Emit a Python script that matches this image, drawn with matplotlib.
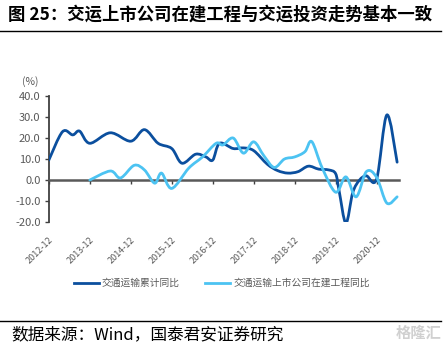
import matplotlib
matplotlib.use("Agg")
import matplotlib.pyplot as plt
from matplotlib.path import Path
from matplotlib.patches import PathPatch
from matplotlib.lines import Line2D

plt.rcParams['font.family'] = ['Noto Sans CJK SC', 'DejaVu Sans']

# 交通运输累计同比 (%)
invest_dates = ['2012-12', '2013-04', '2013-07', '2013-09', '2013-12', '2014-06', '2014-12',
                '2015-04', '2015-08', '2015-12', '2016-03', '2016-07', '2016-10', '2016-12',
                '2017-02', '2017-06', '2017-09', '2017-12', '2018-04', '2018-07', '2018-10',
                '2019-01', '2019-04', '2019-07', '2019-10', '2019-12', '2020-01', '2020-03',
                '2020-05', '2020-07', '2020-09', '2020-12', '2021-03', '2021-06']
invest_vals = [9.5, 23.0, 21.5, 23.3, 17.5, 22.5, 18.5,
               24.0, 17.5, 15.0, 8.0, 12.3, 11.0, 9.5,
               17.5, 15.0, 15.3, 14.0, 7.5, 4.5, 3.3,
               4.0, 6.6, 5.2, 4.8, 3.0, -5.0, -20.5,
               -6.0, 0.0, 2.0, 0.5, 31.0, 8.5]

# 交通运输上市公司在建工程同比 (%)
cip_dates = ['2013-12', '2014-06', '2014-09', '2015-01', '2015-04', '2015-07', '2015-09',
             '2015-12', '2016-05', '2016-09', '2017-01', '2017-03', '2017-06', '2017-09',
             '2017-12', '2018-03', '2018-06', '2018-09', '2018-12', '2019-03', '2019-05',
             '2019-08', '2019-12', '2020-03', '2020-06', '2020-09', '2020-12', '2021-03',
             '2021-06']
cip_vals = [0.0, 4.3, 1.0, 7.0, 4.8, -1.5, 3.3,
            -4.0, 5.7, 11.0, 17.5, 16.7, 20.0, 12.8,
            18.2, 11.5, 6.0, 10.0, 11.0, 13.5, 18.3,
            6.0, -5.8, 1.5, -8.0, 4.0, 1.3, -11.0,
            -8.0]

tick_labels = ['2012-12', '2013-12', '2014-12', '2015-12', '2016-12',
               '2017-12', '2018-12', '2019-12', '2020-12']


def month_index(d):
    y, m = d.split('-')
    return (int(y) - 2012) * 12 + int(m) - 12


def smooth_path(xs, ys):
    # Catmull-Rom style bezier through every point, like a smoothed office chart line
    pts = list(zip(xs, ys))
    verts = [pts[0]]
    codes = [Path.MOVETO]
    n = len(pts)
    for i in range(n - 1):
        p0 = pts[i - 1] if i > 0 else pts[i]
        p1 = pts[i]
        p2 = pts[i + 1]
        p3 = pts[i + 2] if i + 2 < n else pts[i + 1]
        c1 = (p1[0] + (p2[0] - p0[0]) / 6, p1[1] + (p2[1] - p0[1]) / 6)
        c2 = (p2[0] - (p3[0] - p1[0]) / 6, p2[1] - (p3[1] - p1[1]) / 6)
        verts += [c1, c2, p2]
        codes += [Path.CURVE4] * 3
    return Path(verts, codes)


dark = '#0B4F9E'
light = '#4CC3F2'
grey = '#595959'

fig = plt.figure(figsize=(4.48, 3.48), dpi=100)
ax = fig.add_axes([0.109, 0.362, 0.782, 0.362])

for dates, vals, col in [(invest_dates, invest_vals, dark), (cip_dates, cip_vals, light)]:
    xs = [month_index(d) for d in dates]
    ax.add_patch(PathPatch(smooth_path(xs, vals), fill=False, edgecolor=col,
                           lw=2.0, capstyle='round', joinstyle='round', zorder=3))

# spine position first: moving it resets the ticks
for s in ['top', 'right']:
    ax.spines[s].set_visible(False)
ax.spines['bottom'].set_position(('data', 0))
ax.spines['bottom'].set_color(grey)
ax.spines['bottom'].set_linewidth(1.8)
ax.spines['left'].set_color('#404040')
ax.spines['left'].set_linewidth(1.3)

ax.set_xlim(0, 102.6)
ax.set_ylim(-20, 40)
ax.set_yticks(range(-20, 41, 10))
ax.set_yticklabels(['%.1f' % v for v in range(-20, 41, 10)])

ax.set_xticks([month_index(t) for t in tick_labels])
ax.set_xticklabels(tick_labels, rotation=45, ha='right', rotation_mode='anchor')

ax.tick_params(axis='y', direction='out', length=3, width=1, color='#404040',
               labelsize=8, labelcolor=grey, pad=3)
ax.tick_params(axis='x', direction='out', length=3, width=1, color='#404040',
               labelsize=6.5, labelcolor=grey, pad=37)

ax.text(-0.054, 1.07, '(%)', transform=ax.transAxes, fontsize=7.5, color=grey,
        ha='center', va='bottom')

handles = [Line2D([], [], color=dark, lw=2), Line2D([], [], color=light, lw=2)]
fig.legend(handles, ['交通运输累计同比', '交通运输上市公司在建工程同比'],
           loc='center', bbox_to_anchor=(0.495, 1 - 283 / 348), ncol=2, frameon=False,
           fontsize=7, labelcolor=grey, handlelength=2.6, handletextpad=0.3,
           columnspacing=2.6)

fig.text(0.018, 1 - 15 / 348, '图 25：交运上市公司在建工程与交运投资走势基本一致',
         fontsize=12.5, fontweight='bold', ha='left', va='center')
fig.add_artist(Line2D([0, 0.985], [1 - 31 / 348, 1 - 31 / 348], color='black', lw=1))
fig.add_artist(Line2D([0, 0.985], [1 - 321 / 348, 1 - 321 / 348], color='black', lw=1))
fig.text(0.025, 1 - 335 / 348, '数据来源：Wind，国泰君安证券研究',
         fontsize=12, ha='left', va='center')
fig.text(0.985, 1 - 333 / 348, '格隆汇', fontsize=11, color='#d0d0d0',
         ha='right', va='center', fontweight='bold')

fig.savefig('out.png', dpi=100)
